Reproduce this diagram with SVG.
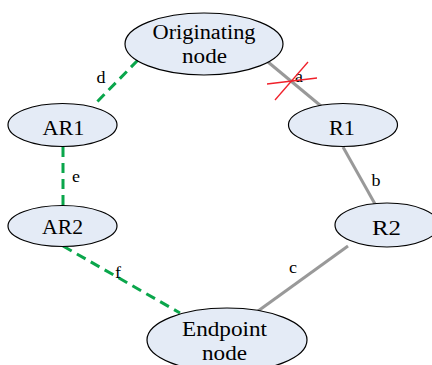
<svg xmlns="http://www.w3.org/2000/svg" width="432" height="365" viewBox="0 0 432 365">
<style>
text{font-family:'Liberation Serif','DejaVu Serif',serif;fill:#000;text-anchor:middle}
.node ellipse{fill:#e4ebf6;stroke:#000;stroke-width:1.2}
.node text{font-size:20px}
.lbl{font-size:16px}
.gray{stroke:#999;stroke-width:3;fill:none}
.green{stroke:#0aa64b;stroke-width:3;fill:none;stroke-dasharray:10 6}
.x{stroke:#f0202a;stroke-width:1.3}
</style>
<rect width="432" height="365" fill="#fff"/>
<g id="connectors">
<line class="green" x1="138" y1="60" x2="94" y2="105"/>
<line class="green" x1="63" y1="147" x2="63" y2="205"/>
<line class="green" x1="63" y1="246" x2="180" y2="313"/>
<line class="gray" x1="268" y1="62" x2="321" y2="106"/>
<line class="gray" x1="343" y1="147" x2="375" y2="204"/>
<line class="gray" x1="348" y1="246" x2="258" y2="311"/>
<text class="lbl" x="299" y="82" textLength="8" lengthAdjust="spacingAndGlyphs">a</text>
<text class="lbl" x="376" y="186" textLength="9" lengthAdjust="spacingAndGlyphs">b</text>
<text class="lbl" x="293" y="273" textLength="8" lengthAdjust="spacingAndGlyphs">c</text>
<text class="lbl" x="101" y="83" textLength="9" lengthAdjust="spacingAndGlyphs">d</text>
<text class="lbl" x="76" y="182" textLength="8" lengthAdjust="spacingAndGlyphs">e</text>
<text class="lbl" x="118" y="278" textLength="6" lengthAdjust="spacingAndGlyphs">f</text>
<line class="x" x1="267" y1="84" x2="317" y2="78"/>
<line class="x" x1="275" y1="100" x2="308" y2="62"/>
</g>
<g id="originating" class="node"><ellipse cx="204" cy="44" rx="79" ry="31"/><text x="204" y="39" textLength="103" lengthAdjust="spacingAndGlyphs">Originating</text><text x="204.5" y="63" textLength="45" lengthAdjust="spacingAndGlyphs">node</text></g>
<g id="ar1" class="node"><ellipse cx="62.5" cy="125" rx="54.5" ry="21.5"/><text x="63.5" y="135" textLength="42" lengthAdjust="spacingAndGlyphs">AR1</text></g>
<g id="ar2" class="node"><ellipse cx="62.5" cy="226" rx="54.5" ry="20.5"/><text x="62.5" y="234" textLength="41" lengthAdjust="spacingAndGlyphs">AR2</text></g>
<g id="r1" class="node"><ellipse cx="343" cy="125" rx="54.5" ry="21.5"/><text x="342" y="135" textLength="26" lengthAdjust="spacingAndGlyphs">R1</text></g>
<g id="r2" class="node"><ellipse cx="387" cy="225" rx="52" ry="22"/><text x="386.5" y="235" textLength="29" lengthAdjust="spacingAndGlyphs">R2</text></g>
<g id="endpoint" class="node"><ellipse cx="227" cy="340" rx="80" ry="32"/><text x="224.5" y="336" textLength="85" lengthAdjust="spacingAndGlyphs">Endpoint</text><text x="224.5" y="360" textLength="45" lengthAdjust="spacingAndGlyphs">node</text></g>
</svg>
